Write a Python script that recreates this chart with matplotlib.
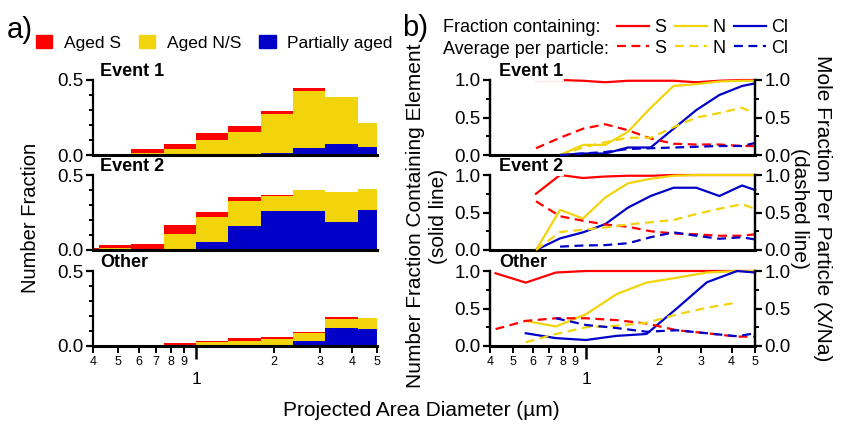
import numpy as np
import matplotlib

matplotlib.use("Agg")
import matplotlib.pyplot as plt
from matplotlib.patches import Patch
from matplotlib.lines import Line2D
from matplotlib.ticker import FixedLocator, FixedFormatter

plt.rcParams["font.family"] = ["Liberation Sans", "DejaVu Sans"]

RED = "#ff0000"
YELLOW = "#f2d40c"
BLUE = "#0000c8"

# size bins (um) for the stacked histograms
BIN_EDGES = [0.4, 0.4217, 0.5623, 0.75, 1.0, 1.334, 1.778, 2.371, 3.162, 4.217, 5.0]

EV1_PARTIAL = [0, 0, 0, 0, 0, 0.003, 0.016, 0.047, 0.072, 0.051]
EV1_AGED_NS = [0.002, 0.002, 0.012, 0.04, 0.098, 0.153, 0.256, 0.381, 0.312, 0.161]
EV1_AGED_S = [0.007, 0.007, 0.028, 0.034, 0.051, 0.039, 0.021, 0.016, 0.0, 0.0]

EV2_PARTIAL = [0, 0, 0.004, 0.007, 0.054, 0.161, 0.257, 0.257, 0.185, 0.27]
EV2_AGED_NS = [0, 0.016, 0.005, 0.102, 0.169, 0.169, 0.105, 0.143, 0.199, 0.136]
EV2_AGED_S = [0.011, 0.015, 0.029, 0.056, 0.031, 0.023, 0.006, 0.0, 0.006, 0.0]

OTH_PARTIAL = [0.004, 0.004, 0.0, 0.0, 0.0, 0.004, 0.007, 0.036, 0.118, 0.111]
OTH_AGED_NS = [0, 0, 0.006, 0.008, 0.024, 0.032, 0.04, 0.048, 0.064, 0.073]
OTH_AGED_S = [0, 0, 0.004, 0.01, 0.012, 0.015, 0.011, 0.012, 0.009, 0.0]

# element fractions (right panels)
nan = np.nan
X_EVENT = [0.62, 0.78, 0.97, 1.2, 1.49, 1.85, 2.3, 2.86, 3.56, 4.42, 5.0]
X_OTHER = [0.4217, 0.5623, 0.75, 1.0, 1.334, 1.778, 2.371, 3.162, 4.217, 5.0]

EV1_S_FRAC = [1.0, 1.0, 0.99, 0.97, 0.99, 0.99, 0.99, 0.97, 0.99, 1.0, 1.0]
EV1_N_FRAC = [nan, 0.0, 0.135, 0.135, 0.31, 0.63, 0.92, 0.945, 0.98, 0.99, 0.99]
EV1_CL_FRAC = [nan, 0.0, 0.02, 0.02, 0.10, 0.10, 0.35, 0.60, 0.80, 0.92, 0.955]
EV1_S_MOLE = [0.09, 0.23, 0.35, 0.41, 0.33, 0.22, 0.15, 0.14, 0.14, 0.12, 0.12]
EV1_N_MOLE = [nan, 0.0, 0.1, 0.17, 0.23, 0.23, 0.37, 0.50, 0.56, 0.63, 0.55]
EV1_CL_MOLE = [nan, 0.0, 0.02, 0.04, 0.08, 0.09, 0.10, 0.11, 0.12, 0.12, 0.16]

EV2_S_FRAC = [0.75, 1.0, 0.96, 0.98, 0.99, 0.99, 1.0, 1.0, 1.0, 1.0, 1.0]
EV2_N_FRAC = [0.0, 0.535, 0.42, 0.70, 0.89, 0.95, 0.99, 1.0, 1.0, 1.0, 1.0]
EV2_CL_FRAC = [0.0, 0.155, 0.235, 0.345, 0.565, 0.72, 0.83, 0.83, 0.72, 0.86, 0.80]
EV2_S_MOLE = [0.65, 0.45, 0.39, 0.34, 0.31, 0.25, 0.22, 0.21, 0.19, 0.19, 0.21]
EV2_N_MOLE = [0.0, 0.24, 0.27, 0.30, 0.34, 0.37, 0.40, 0.48, 0.55, 0.61, 0.55]
EV2_CL_MOLE = [nan, 0.045, 0.06, 0.065, 0.09, 0.17, 0.235, 0.19, 0.15, 0.17, 0.14]

OTH_S_FRAC = [0.97, 0.845, 0.98, 1.0, 1.0, 1.0, 1.0, 1.0, 1.0, 1.0]
OTH_N_FRAC = [nan, 0.335, 0.26, 0.425, 0.69, 0.845, 0.91, 0.98, 1.0, 1.0]
OTH_CL_FRAC = [nan, 0.17, 0.105, 0.08, 0.135, 0.16, 0.5, 0.85, 1.0, 0.98]
OTH_S_MOLE = [0.225, 0.335, 0.37, 0.37, 0.345, 0.30, 0.21, 0.17, 0.125, 0.125]
OTH_N_MOLE = [nan, 0.05, 0.16, 0.25, 0.27, 0.31, 0.42, 0.51, 0.58, nan]
OTH_CL_MOLE = [nan, nan, 0.37, 0.28, 0.24, 0.19, 0.21, 0.17, 0.13, 0.17]

PANEL_NAMES = ["Event 1", "Event 2", "Other"]
MINOR_TICKS = [0.4, 0.5, 0.6, 0.7, 0.8, 0.9, 2, 3, 4, 5]
MINOR_LABELS = ["4", "5", "6", "7", "8", "9", "2", "3", "4", "5"]

W, H = 843, 429
PANEL_BOTTOMS = [155, 250, 346]  # pixel rows of y=0
PANEL_H = 75
TICK_FS = 13.5
LABEL_FS = 15


def fig_rect(x0, x1, y0_px):
    return [x0 / W, 1 - y0_px / H, (x1 - x0) / W, PANEL_H / H]


def style_xaxis(ax, bottom):
    ax.set_xscale("log")
    ax.set_xlim(0.4, 5)
    ax.spines["top"].set_visible(False)
    ax.spines["bottom"].set_linewidth(2.2)
    if not bottom:
        ax.tick_params(axis="x", which="both", bottom=False, labelbottom=False)
        return
    ax.xaxis.set_major_locator(FixedLocator([1]))
    ax.xaxis.set_major_formatter(FixedFormatter(["1"]))
    ax.xaxis.set_minor_locator(FixedLocator(MINOR_TICKS))
    ax.xaxis.set_minor_formatter(FixedFormatter(MINOR_LABELS))
    ax.tick_params(axis="x", which="major", direction="out", length=9, width=1.8, labelsize=12.5, pad=10)
    ax.tick_params(axis="x", which="minor", direction="out", length=5, width=1.4, labelsize=9, pad=2)


def style_yaxis(a):
    a.tick_params(axis="y", which="major", length=5, width=1.6, labelsize=TICK_FS, pad=2)
    a.tick_params(axis="y", which="minor", length=3, width=1.4)


def draw_hist(ax, partial, aged_ns, aged_s):
    left = BIN_EDGES[:-1]
    width = np.diff(BIN_EDGES)
    partial = np.array(partial)
    aged_ns = np.array(aged_ns)
    ax.bar(left, partial, width=width, align="edge", color=BLUE, linewidth=0)
    ax.bar(left, aged_ns, width=width, bottom=partial, align="edge", color=YELLOW, linewidth=0)
    ax.bar(left, aged_s, width=width, bottom=partial + aged_ns, align="edge", color=RED, linewidth=0)
    ax.set_ylim(0, 0.5)
    ax.set_yticks([0, 0.5])
    ax.set_yticklabels(["0.0", "0.5"])
    ax.set_yticks(np.arange(0.1, 0.5, 0.1), minor=True)
    ax.spines["right"].set_visible(False)
    ax.spines["left"].set_linewidth(1.6)
    style_yaxis(ax)


def draw_lines(ax, ax2, x, fracs, moles):
    for vals, color in zip(fracs, [RED, YELLOW, BLUE]):
        ax.plot(x, vals, color=color, linewidth=1.6, clip_on=False)
    for vals, color in zip(moles, [RED, YELLOW, BLUE]):
        ax2.plot(x, vals, color=color, linewidth=1.6, linestyle=(0, (4, 2.5)), clip_on=False)
    for a in (ax, ax2):
        a.set_ylim(0, 1)
        a.set_yticks([0, 0.5, 1])
        a.set_yticklabels(["0.0", "0.5", "1.0"])
        a.set_yticks([0.25, 0.75], minor=True)
        style_yaxis(a)
        a.spines["top"].set_visible(False)
        a.spines["left"].set_linewidth(1.6)
        a.spines["right"].set_linewidth(1.6)


fig = plt.figure(figsize=(W / 100, H / 100), dpi=100)

hist_data = [
    (EV1_PARTIAL, EV1_AGED_NS, EV1_AGED_S),
    (EV2_PARTIAL, EV2_AGED_NS, EV2_AGED_S),
    (OTH_PARTIAL, OTH_AGED_NS, OTH_AGED_S),
]
line_data = [
    (X_EVENT, (EV1_S_FRAC, EV1_N_FRAC, EV1_CL_FRAC), (EV1_S_MOLE, EV1_N_MOLE, EV1_CL_MOLE)),
    (X_EVENT, (EV2_S_FRAC, EV2_N_FRAC, EV2_CL_FRAC), (EV2_S_MOLE, EV2_N_MOLE, EV2_CL_MOLE)),
    (X_OTHER, (OTH_S_FRAC, OTH_N_FRAC, OTH_CL_FRAC), (OTH_S_MOLE, OTH_N_MOLE, OTH_CL_MOLE)),
]

for i, name in enumerate(PANEL_NAMES):
    bottom = i == len(PANEL_NAMES) - 1

    ax = fig.add_axes(fig_rect(93, 377, PANEL_BOTTOMS[i]))
    draw_hist(ax, *hist_data[i])
    style_xaxis(ax, bottom)
    ax.text(0.025, 1.0, name, transform=ax.transAxes, fontsize=13, fontweight="bold", va="bottom", ha="left")

    axr = fig.add_axes(fig_rect(490, 755, PANEL_BOTTOMS[i]))
    axr2 = axr.twinx()
    x, fracs, moles = line_data[i]
    draw_lines(axr, axr2, x, fracs, moles)
    style_xaxis(axr, bottom)
    axr2.spines["bottom"].set_visible(False)
    axr2.text(0.035, 1.0, name, transform=axr.transAxes, fontsize=13, fontweight="bold",
              va="bottom", ha="left", zorder=10,
              bbox=dict(facecolor="white", edgecolor="none", pad=0.5))

# legends
hist_handles = [Patch(color=RED), Patch(color=YELLOW), Patch(color=BLUE)]
fig.legend(hist_handles, ["Aged S", "Aged N/S", "Partially aged"], loc="center",
           bbox_to_anchor=(214 / W, 1 - 43 / H), ncol=3, frameon=False, fontsize=12.5,
           handlelength=0.95, handleheight=0.75, handletextpad=0.65, columnspacing=1.05,
           borderpad=0, borderaxespad=0)

line_handles = []
for color in [RED, YELLOW, BLUE]:
    line_handles.append(Line2D([], [], color=color, linewidth=1.6))
    line_handles.append(Line2D([], [], color=color, linewidth=1.6, linestyle=(0, (4, 2.5))))
fig.legend(line_handles, ["S", "S", "N", "N", "Cl", "Cl"], loc="upper left",
           bbox_to_anchor=(617 / W, 1 - 19 / H), ncol=3, frameon=False, fontsize=13,
           handlelength=1.75, handletextpad=0.3, columnspacing=0.5, labelspacing=0.2,
           borderpad=0, borderaxespad=0)
fig.text(443 / W, 1 - 27 / H, "Fraction containing:", fontsize=13, va="center", ha="left")
fig.text(443 / W, 1 - 49 / H, "Average per particle:", fontsize=13, va="center", ha="left")

# panel letters and axis titles
fig.text(7 / W, 1 - 30 / H, "a)", fontsize=21, va="center", ha="left")
fig.text(402 / W, 1 - 28 / H, "b)", fontsize=21, va="center", ha="left")
fig.text(31 / W, 1 - 218 / H, "Number Fraction", fontsize=14.5, rotation=90, va="center", ha="center")
fig.text(427 / W, 1 - 216 / H, "Number Fraction Containing Element\n(solid line)", fontsize=LABEL_FS,
         rotation=90, va="center", ha="center", linespacing=1.25, multialignment="center")
fig.text(811 / W, 1 - 208 / H, "Mole Fraction Per Particle (X/Na)\n(dashed line)", fontsize=LABEL_FS,
         rotation=270, va="center", ha="center", linespacing=1.25, multialignment="center")
fig.text(421 / W, 1 - 410 / H, "Projected Area Diameter (µm)", fontsize=LABEL_FS, va="center", ha="center")

fig.savefig("out.png", dpi=100)
plt.close(fig)
